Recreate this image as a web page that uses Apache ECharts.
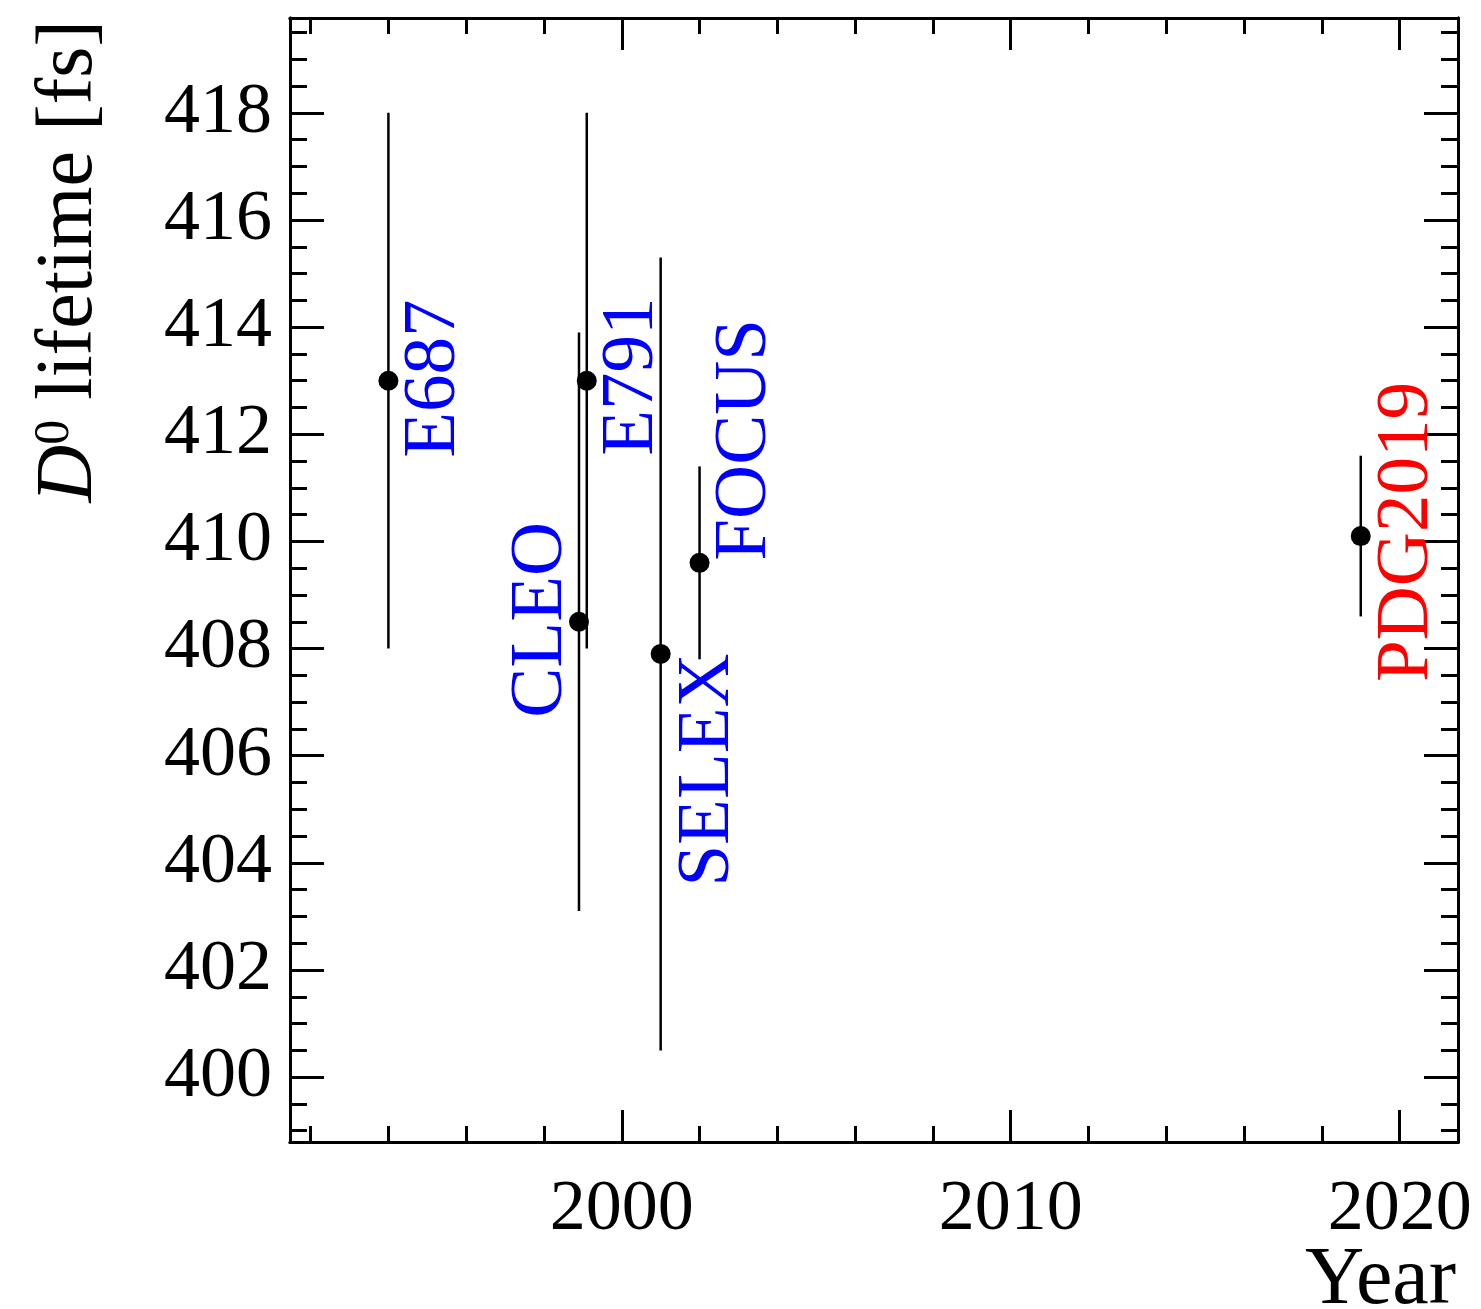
<!DOCTYPE html>
<html>
<head>
<meta charset="utf-8">
<script src="https://cdn.jsdelivr.net/npm/echarts@6/dist/echarts.min.js"></script>
<style>
  html, body { margin: 0; padding: 0; background: #fff; }
  #chart { width: 1481px; height: 1309px; }
</style>
</head>
<body>
<div id="chart"></div>
<script>
const experiments = ["E687", "CLEO", "E791", "SELEX", "FOCUS", "PDG2019"];
const years = [1994.0, 1998.9, 1999.1, 2001.0, 2002.0, 2019.0];
const lifetimes = [413.0, 408.5, 413.0, 407.9, 409.6, 410.1];
const errors = [5.0, 5.4, 5.0, 7.4, 1.8, 1.5];

// axis ticks
const yearLabels = [2000, 2010, 2020];
const yearTicks = [1992, 1994, 1996, 1998, 2000, 2002, 2004, 2006, 2008, 2010, 2012, 2014, 2016, 2018, 2020];
const lifetimeLabels = [400, 402, 404, 406, 408, 410, 412, 414, 416, 418];
const lifetimeMinor = [399, 399.5, 400, 400.5, 401, 401.5, 402, 402.5, 403, 403.5, 404, 404.5, 405, 405.5,
  406, 406.5, 407, 407.5, 408, 408.5, 409, 409.5, 410, 410.5, 411, 411.5, 412, 412.5, 413, 413.5,
  414, 414.5, 415, 415.5, 416, 416.5, 417, 417.5, 418, 418.5, 419, 419.5];

const FONT = "Liberation Serif";
const xMin = 1991.47, xMax = 2021.5;
const yMin = 398.79, yMax = 419.77;

// where each name sits relative to its point, in screen px [right, down]
const labelShift = [[46, -2], [-38, -2], [46, -4], [48, 116], [46, -123], [47, -4]];
const labelColor = ["#0000ff", "#0000ff", "#0000ff", "#0000ff", "#0000ff", "#ff0000"];

const chart = echarts.init(document.getElementById("chart"));

function xAx(pos, ticks, len, labels) {
  return {
    type: "value", position: pos, min: xMin, max: xMax,
    axisLine: { show: true, onZero: false, lineStyle: { color: "#000", width: 3 } },
    axisTick: { show: true, inside: true, length: len, customValues: ticks, lineStyle: { color: "#000", width: 3 } },
    axisLabel: labels ? {
      show: true, customValues: labels, margin: 32, color: "#000",
      fontFamily: FONT, fontSize: 72, formatter: v => String(v)
    } : { show: false },
    splitLine: { show: false }
  };
}
function yAx(pos, ticks, len, labels) {
  return {
    type: "value", position: pos, min: yMin, max: yMax,
    axisLine: { show: true, onZero: false, lineStyle: { color: "#000", width: 3 } },
    axisTick: { show: true, inside: true, length: len, customValues: ticks, lineStyle: { color: "#000", width: 3 } },
    axisLabel: labels ? {
      show: true, customValues: labels, margin: 18, color: "#000",
      fontFamily: FONT, fontSize: 72, formatter: v => String(v)
    } : { show: false },
    splitLine: { show: false }
  };
}

// label is rotated 90deg, so its offset is given in the rotated frame
const points = years.map((x, i) => ({
  value: [x, lifetimes[i]],
  label: {
    show: true, formatter: experiments[i], rotate: 90, position: "inside",
    offset: [-labelShift[i][1], labelShift[i][0]], color: labelColor[i], opacity: 1,
    fontFamily: FONT, fontSize: 75, align: "center", verticalAlign: "middle"
  }
}));

const bars = years.map((x, i) => [x, lifetimes[i] - errors[i], lifetimes[i] + errors[i]]);

chart.setOption({
  animation: false,
  backgroundColor: "#fff",
  grid: { left: 290, right: 23, top: 18, bottom: 167, containLabel: false },
  xAxis: [
    xAx("bottom", yearLabels, 32, yearLabels),
    xAx("bottom", yearTicks, 16, null),
    xAx("top", yearLabels, 32, null),
    xAx("top", yearTicks, 16, null)
  ],
  yAxis: [
    yAx("left", lifetimeLabels, 34, lifetimeLabels),
    yAx("left", lifetimeMinor, 17, null),
    yAx("right", lifetimeLabels, 34, null),
    yAx("right", lifetimeMinor, 17, null)
  ],
  series: [
    {
      type: "custom",
      data: bars,
      renderItem: function (params, api) {
        const lo = api.coord([api.value(0), api.value(1)]);
        const hi = api.coord([api.value(0), api.value(2)]);
        return {
          type: "line",
          shape: { x1: lo[0], y1: lo[1], x2: hi[0], y2: hi[1] },
          style: { stroke: "#000", lineWidth: 2.5 }
        };
      },
      z: 2
    },
    {
      type: "scatter",
      data: points,
      symbol: "circle",
      symbolSize: 20,
      itemStyle: { color: "#000", opacity: 1 },
      z: 3
    }
  ],
  graphic: [
    {
      type: "text", x: 70, y: 20, rotation: Math.PI / 2,
      style: {
        text: "{i|D}{s|0} lifetime [fs]",
        align: "right", verticalAlign: "middle",
        textAlign: "right", textVerticalAlign: "middle",
        fill: "#000",
        font: "80px '" + FONT + "'",
        rich: {
          i: { fontFamily: FONT, fontSize: 80, fontStyle: "italic", fill: "#000", color: "#000" },
          s: { fontFamily: FONT, fontSize: 50, verticalAlign: "top", fill: "#000", color: "#000" }
        }
      }
    },
    {
      type: "text", right: 25, top: 1240,
      style: { text: "Year", fill: "#000", font: "82px '" + FONT + "'" }
    }
  ]
});
</script>
</body>
</html>
